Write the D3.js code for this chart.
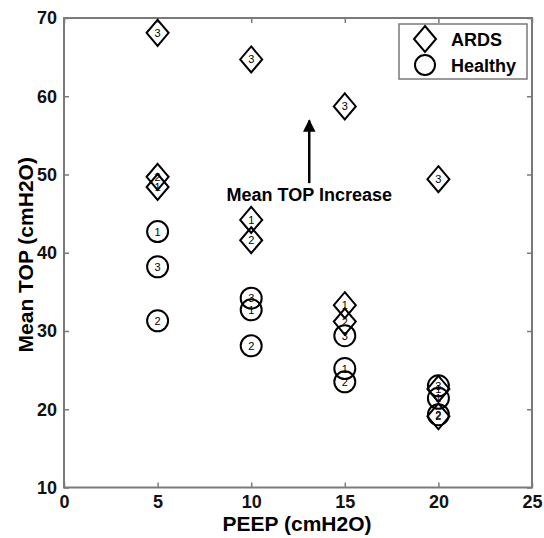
<!DOCTYPE html>
<html>
<head>
<meta charset="utf-8">
<script src="https://cdn.jsdelivr.net/npm/d3@7"></script>
<style>
  body { margin: 0; background: #fff; }
  svg { font-family: Arial, "Liberation Sans", sans-serif; }
</style>
</head>
<body>
<div id="chart"></div>
<script>
// PEEP levels (x) and mean TOP per subject (y)
const peep = [5, 10, 15, 20];
const ards1 = [48.4, 44.2, 33.3, 22.6];
const ards2 = [49.7, 41.6, 31.2, 19.1];
const ards3 = [68.1, 64.7, 58.7, 49.4];
const healthy1 = [42.7, 32.7, 25.2, 21.4];
const healthy2 = [31.3, 28.1, 23.5, 19.3];
const healthy3 = [38.2, 34.2, 29.4, 23.0];
const xTicks = [0, 5, 10, 15, 20, 25];
const yTicks = [10, 20, 30, 40, 50, 60, 70];
const arrowFrom = [13.1, 48.9];
const arrowTo = [13.1, 56.9];

const width = 544, height = 538;
const margin = { top: 18, right: 12, bottom: 50.5, left: 64 };

const svg = d3.select('#chart').append('svg')
    .attr('width', width).attr('height', height);

const xScale = d3.scaleLinear().domain([0, 25]).range([margin.left, width - margin.right]);
const yScale = d3.scaleLinear().domain([10, 70]).range([height - margin.bottom, margin.top]);

const axisColor = '#7a7a7a';
const plotW = width - margin.left - margin.right;
const plotH = height - margin.top - margin.bottom;

// frame with inward ticks on all four sides
function styleAxis(g) {
    g.select('.domain').remove();
    g.selectAll('.tick line').attr('stroke', axisColor).attr('stroke-width', 1.5);
    g.selectAll('.tick text').attr('fill', '#111').attr('font-size', 18).attr('font-weight', 'bold');
}

svg.append('g')
    .attr('transform', `translate(0,${height - margin.bottom})`)
    .call(d3.axisBottom(xScale).tickValues(xTicks).tickSize(-5).tickPadding(8))
    .call(styleAxis);
svg.append('g')
    .attr('transform', `translate(0,${margin.top})`)
    .call(d3.axisTop(xScale).tickValues(xTicks).tickSize(-5).tickFormat(''))
    .call(styleAxis);
svg.append('g')
    .attr('transform', `translate(${margin.left},0)`)
    .call(d3.axisLeft(yScale).tickValues(yTicks).tickSize(-5).tickPadding(7))
    .call(styleAxis);
svg.append('g')
    .attr('transform', `translate(${width - margin.right},0)`)
    .call(d3.axisRight(yScale).tickValues(yTicks).tickSize(-5).tickFormat(''))
    .call(styleAxis);

svg.append('rect')
    .attr('x', margin.left).attr('y', margin.top)
    .attr('width', plotW).attr('height', plotH)
    .attr('fill', 'none').attr('stroke', axisColor).attr('stroke-width', 2);

// axis titles
svg.append('text')
    .attr('x', margin.left + plotW / 2 - 1).attr('y', 531)
    .attr('text-anchor', 'middle').attr('font-size', 21).attr('font-weight', 'bold')
    .text('PEEP (cmH2O)');
svg.append('text')
    .attr('transform', `translate(33,${margin.top + plotH / 2 + 2}) rotate(-90)`)
    .attr('text-anchor', 'middle').attr('font-size', 21).attr('font-weight', 'bold')
    .text('Mean TOP (cmH2O)');

// markers
const diamond = (cx, cy) => `M${cx},${cy - 13}L${cx + 11},${cy}L${cx},${cy + 13}L${cx - 11},${cy}Z`;

const ardsPts = [ards1, ards2, ards3].flatMap((s, i) =>
    s.map((v, j) => ({ x: peep[j], y: v, label: i + 1 })));
const healthyPts = [healthy1, healthy2, healthy3].flatMap((s, i) =>
    s.map((v, j) => ({ x: peep[j], y: v, label: i + 1 })));

const marks = svg.append('g');
marks.selectAll('path.ards')
    .data(ardsPts).join('path').attr('class', 'ards')
    .attr('d', d => diamond(xScale(d.x), yScale(d.y)))
    .attr('fill', 'none').attr('stroke', '#000').attr('stroke-width', 2);
marks.selectAll('circle.healthy')
    .data(healthyPts).join('circle').attr('class', 'healthy')
    .attr('cx', d => xScale(d.x)).attr('cy', d => yScale(d.y)).attr('r', 10.5)
    .attr('fill', 'none').attr('stroke', '#000').attr('stroke-width', 2);
marks.selectAll('text.num')
    .data(ardsPts.concat(healthyPts)).join('text').attr('class', 'num')
    .attr('x', d => xScale(d.x)).attr('y', d => yScale(d.y) + 4)
    .attr('text-anchor', 'middle').attr('font-size', 11).attr('fill', '#000')
    .text(d => d.label);

// arrow annotation
svg.append('defs').append('marker')
    .attr('id', 'head').attr('viewBox', '0 0 10 10')
    .attr('refX', 9).attr('refY', 5)
    .attr('markerWidth', 5).attr('markerHeight', 7)
    .attr('orient', 'auto')
    .append('path').attr('d', 'M0,0L10,5L0,10Z').attr('fill', '#000');
svg.append('line')
    .attr('x1', xScale(arrowFrom[0])).attr('y1', yScale(arrowFrom[1]))
    .attr('x2', xScale(arrowTo[0])).attr('y2', yScale(arrowTo[1]))
    .attr('stroke', '#000').attr('stroke-width', 2.5)
    .attr('marker-end', 'url(#head)');
svg.append('text')
    .attr('x', xScale(arrowFrom[0])).attr('y', 201)
    .attr('text-anchor', 'middle').attr('font-size', 18).attr('font-weight', 'bold')
    .text('Mean TOP Increase');

// legend
const lg = svg.append('g');
lg.append('rect')
    .attr('x', 399).attr('y', 24).attr('width', 128).attr('height', 55)
    .attr('fill', '#fff').attr('stroke', axisColor).attr('stroke-width', 1.5);
lg.append('path').attr('d', diamond(425, 39))
    .attr('fill', 'none').attr('stroke', '#000').attr('stroke-width', 2);
lg.append('circle').attr('cx', 425).attr('cy', 65).attr('r', 10)
    .attr('fill', 'none').attr('stroke', '#000').attr('stroke-width', 2);
lg.append('text').attr('x', 451).attr('y', 46)
    .attr('font-size', 18).attr('font-weight', 'bold').text('ARDS');
lg.append('text').attr('x', 451).attr('y', 72)
    .attr('font-size', 18).attr('font-weight', 'bold').text('Healthy');
</script>
</body>
</html>
